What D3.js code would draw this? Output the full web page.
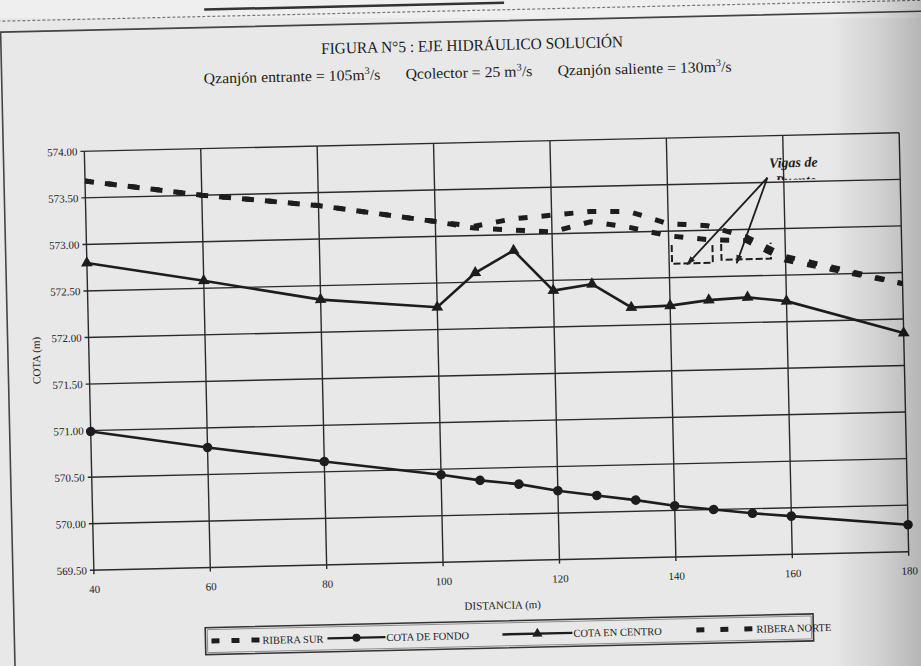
<!DOCTYPE html>
<html>
<head>
<meta charset="utf-8">
<script src="https://cdn.jsdelivr.net/npm/d3@7/dist/d3.min.js"></script>
<style>
  html, body { margin: 0; padding: 0; background: #e7e7e7; }
  svg { display: block; }
  text { font-family: "Liberation Serif", "Times New Roman", serif; fill: #1c1c1c; }
</style>
</head>
<body>
<svg id="chart" width="921" height="666"></svg>
<script>
// Distance along the channel (m) and the elevations of each profile (m)
const distancia   = [40, 60, 80, 100, 106.67, 113.33, 120, 126.67, 133.33, 140, 146.67, 153.33, 160, 180];
const riberaSur   = [573.68, 573.50, 573.36, 573.16, 573.10, 573.17, 573.20, 573.23, 573.22, 573.08, 573.05, 572.92, 572.70, 572.38];
const cotaFondo   = [570.99, 570.79, 570.61, 570.44, 570.37, 570.32, 570.24, 570.18, 570.12, 570.05, 570.00, 569.95, 569.91, 569.79];
const cotaCentro  = [572.80, 572.58, 572.35, 572.24, 572.60, 572.83, 572.39, 572.45, 572.19, 572.20, 572.25, 572.27, 572.22, 571.85];
const riberaNorte = [573.68, 573.50, 573.36, 573.16, 573.08, 573.05, 573.02, 573.12, 573.05, 572.95, 572.90, 572.88, 572.66, 572.38];

// Axis ticks
const xTicks = [40, 60, 80, 100, 120, 140, 160, 180];
const yTicks = [569.5, 570, 570.5, 571, 571.5, 572, 572.5, 573, 573.5, 574];

// Bridge beams (start, end, top and underside elevation)
const vigasDesde  = [140.5, 149.0];
const vigasHasta  = [147.5, 157.5];
const vigasTecho  = [572.85, 572.85];
const vigasFondo  = [572.65, 572.68];
// Callout: text anchor and arrow tips (distance, elevation)
const notaOrigen  = [157.2, 573.55];
const notaPuntas  = [[143.1, 572.64], [151.6, 572.64]];

const titulo    = "FIGURA N°5 : EJE HIDRÁULICO SOLUCIÓN";
const caudales  = [["Qzanjón entrante = 105m", "/s"], ["Qcolector = 25 m", "/s"], ["Qzanjón saliente = 130m", "/s"]];
const leyenda   = ["RIBERA SUR", "COTA DE FONDO", "COTA EN CENTRO", "RIBERA NORTE"];

const svg = d3.select("#chart");
const defs = svg.append("defs");

// paper shading towards the right edge
const grad = defs.append("linearGradient").attr("id", "sombra").attr("x1", 0).attr("x2", 1).attr("y1", 0).attr("y2", 0);
grad.append("stop").attr("offset", "0").attr("stop-color", "#000").attr("stop-opacity", 0);
grad.append("stop").attr("offset", "0.55").attr("stop-color", "#000").attr("stop-opacity", 0.10);
grad.append("stop").attr("offset", "1").attr("stop-color", "#000").attr("stop-opacity", 0.22);

svg.append("rect").attr("width", 921).attr("height", 666).attr("fill", "#e8e8e8");
svg.append("rect").attr("x", 0).attr("y", 0).attr("width", 921).attr("height", 18).attr("fill", "#efefef");

defs.append("marker").attr("id", "flecha").attr("viewBox", "0 0 10 10")
  .attr("refX", 9).attr("refY", 5).attr("markerWidth", 9).attr("markerHeight", 9)
  .attr("orient", "auto").attr("markerUnits", "userSpaceOnUse")
  .append("path").attr("d", "M0,1.5 L10,5 L0,8.5 Z").attr("fill", "#222");

const root = svg.append("g").attr("transform", "rotate(-1.3, 496, 352)");

// page frame lines
root.append("line").attr("x1", 212).attr("x2", 512).attr("y1", 3).attr("y2", 3).attr("stroke", "#333").attr("stroke-width", 2.5);
root.append("line").attr("x1", -10).attr("x2", 940).attr("y1", 10).attr("y2", 10).attr("stroke", "#777").attr("stroke-width", 1.2).attr("stroke-dasharray", "3,2");
root.append("path").attr("d", "M8,700 L8,21 L930,21").attr("fill", "none").attr("stroke", "#444").attr("stroke-width", 1.6);

const M = { left: 89, right: 904, top: 142, bottom: 561 };
const x = d3.scaleLinear().domain([40, 180]).range([M.left, M.right]);
const y = d3.scaleLinear().domain([569.5, 574]).range([M.bottom, M.top]);

// title block
root.append("text").attr("x", 479).attr("y", 50).attr("text-anchor", "middle")
  .attr("font-size", 16).attr("textLength", 302).attr("lengthAdjust", "spacingAndGlyphs").text(titulo);
const sub = root.append("text").attr("x", 474).attr("y", 77).attr("text-anchor", "middle").attr("font-size", 15)
  .attr("textLength", 528).attr("lengthAdjust", "spacingAndGlyphs");
caudales.forEach((c, i) => {
  const t = sub.append("tspan").text(c[0]);
  if (i > 0) t.attr("dx", 24);
  sub.append("tspan").attr("dy", -6).attr("font-size", 10).text("3");
  sub.append("tspan").attr("dy", 6).text(c[1]);
});

// grid
const grid = root.append("g").attr("stroke", "#2a2a2a").attr("stroke-width", 1.4);
grid.selectAll("line.h").data(yTicks).join("line").attr("class", "h")
  .attr("x1", M.left - 4).attr("x2", M.right).attr("y1", d => y(d)).attr("y2", d => y(d));
grid.selectAll("line.v").data(xTicks).join("line").attr("class", "v")
  .attr("x1", d => x(d)).attr("x2", d => x(d)).attr("y1", M.top).attr("y2", M.bottom + 4);

// axes labels via d3 axes
const yAxis = root.append("g").attr("transform", `translate(${M.left},0)`)
  .call(d3.axisLeft(y).tickValues(yTicks).tickFormat(d3.format(".2f")).tickSize(0).tickPadding(7));
yAxis.select(".domain").remove();
yAxis.selectAll("text").attr("font-family", "Liberation Serif, serif").attr("font-size", 11).attr("fill", "#222");

const xAxis = root.append("g").attr("transform", `translate(0,${M.bottom})`)
  .call(d3.axisBottom(x).tickValues(xTicks).tickFormat(d3.format("d")).tickSize(0).tickPadding(15));
xAxis.select(".domain").remove();
xAxis.selectAll("text").attr("font-family", "Liberation Serif, serif").attr("font-size", 11).attr("fill", "#222");

root.append("text").attr("x", 497).attr("y", 609).attr("text-anchor", "middle").attr("font-size", 11).text("DISTANCIA (m)");
root.append("text").attr("transform", "translate(40,350) rotate(-90)").attr("text-anchor", "middle").attr("font-size", 11).text("COTA (m)");

// series
const line = vals => d3.line().x((d, i) => x(distancia[i])).y(d => y(d))(vals);
const ink = "#1d1d1d";

root.append("path").attr("d", line(riberaSur)).attr("fill", "none").attr("stroke", ink)
  .attr("stroke-width", 5).attr("stroke-dasharray", "9,14");
root.append("path").attr("d", line(riberaNorte)).attr("fill", "none").attr("stroke", ink)
  .attr("stroke-width", 5).attr("stroke-dasharray", "9,14").attr("stroke-dashoffset", 3);

root.append("path").attr("d", line(cotaFondo)).attr("fill", "none").attr("stroke", ink).attr("stroke-width", 2.6);
root.append("g").selectAll("circle").data(cotaFondo).join("circle")
  .attr("cx", (d, i) => x(distancia[i])).attr("cy", d => y(d)).attr("r", 4.8).attr("fill", ink);

root.append("path").attr("d", line(cotaCentro)).attr("fill", "none").attr("stroke", ink).attr("stroke-width", 2.6);
const tri = d3.symbol().type(d3.symbolTriangle).size(60);
root.append("g").selectAll("path").data(cotaCentro).join("path")
  .attr("d", tri).attr("transform", (d, i) => `translate(${x(distancia[i])},${y(d)})`).attr("fill", ink);

// bridge beams
vigasDesde.forEach((d0, i) => {
  const p = d3.path();
  p.moveTo(x(d0), y(vigasTecho[i]));
  p.lineTo(x(d0), y(vigasFondo[i]));
  p.lineTo(x(vigasHasta[i]), y(vigasFondo[i]));
  p.lineTo(x(vigasHasta[i]), y(vigasTecho[i]));
  root.append("path").attr("d", p.toString()).attr("fill", "none").attr("stroke", ink)
    .attr("stroke-width", 2).attr("stroke-dasharray", "7,3");
});

// callout
notaPuntas.forEach(pt => {
  root.append("line").attr("x1", x(notaOrigen[0])).attr("y1", y(notaOrigen[1]))
    .attr("x2", x(pt[0])).attr("y2", y(pt[1])).attr("stroke", ink).attr("stroke-width", 1.8)
    .attr("marker-end", "url(#flecha)");
});
root.append("text").attr("x", x(notaOrigen[0]) + 2).attr("y", y(notaOrigen[1]) - 10)
  .attr("font-size", 14).attr("font-style", "italic").attr("font-weight", "bold").text("Vigas de");
defs.append("clipPath").attr("id", "corte").append("rect")
  .attr("x", x(notaOrigen[0])).attr("y", y(notaOrigen[1]) - 4).attr("width", 80).attr("height", 6.5);
root.append("text").attr("x", x(notaOrigen[0]) + 8).attr("y", y(notaOrigen[1]) + 8).attr("clip-path", "url(#corte)")
  .attr("font-size", 14).attr("font-style", "italic").attr("font-weight", "bold").text("Puente");

// legend
const lg = root.append("g").attr("transform", "translate(199,621)");
lg.append("rect").attr("width", 608).attr("height", 27).attr("fill", "none").attr("stroke", "#333").attr("stroke-width", 1.6);
lg.append("rect").attr("x", 2).attr("y", 2).attr("width", 604).attr("height", 23).attr("fill", "none").attr("stroke", "#777").attr("stroke-width", 0.8);
const ly = 13.5;
// RIBERA SUR sample
lg.append("line").attr("x1", 6).attr("x2", 54).attr("y1", ly).attr("y2", ly).attr("stroke", ink)
  .attr("stroke-width", 5).attr("stroke-dasharray", "8,12");
lg.append("text").attr("x", 57).attr("y", ly + 4).attr("font-size", 10.5).text(leyenda[0]);
// COTA DE FONDO sample
lg.append("line").attr("x1", 122).attr("x2", 180).attr("y1", ly).attr("y2", ly).attr("stroke", ink).attr("stroke-width", 2.4);
lg.append("circle").attr("cx", 151).attr("cy", ly).attr("r", 4).attr("fill", ink);
lg.append("text").attr("x", 181).attr("y", ly + 4).attr("font-size", 10.5).text(leyenda[1]);
// COTA EN CENTRO sample
lg.append("line").attr("x1", 297).attr("x2", 367).attr("y1", ly).attr("y2", ly).attr("stroke", ink).attr("stroke-width", 2.4);
lg.append("path").attr("d", d3.symbol().type(d3.symbolTriangle).size(45)).attr("transform", `translate(332,${ly})`).attr("fill", ink);
lg.append("text").attr("x", 368).attr("y", ly + 4).attr("font-size", 10.5).text(leyenda[2]);
// RIBERA NORTE sample
lg.append("line").attr("x1", 491).attr("x2", 548).attr("y1", ly).attr("y2", ly).attr("stroke", ink)
  .attr("stroke-width", 5).attr("stroke-dasharray", "8,16");
lg.append("text").attr("x", 551).attr("y", ly + 4).attr("font-size", 10.5).text(leyenda[3]);

// scan shading at the right edge
svg.append("rect").attr("x", 830).attr("y", 0).attr("width", 91).attr("height", 666).attr("fill", "url(#sombra)");
</script>
</body>
</html>
